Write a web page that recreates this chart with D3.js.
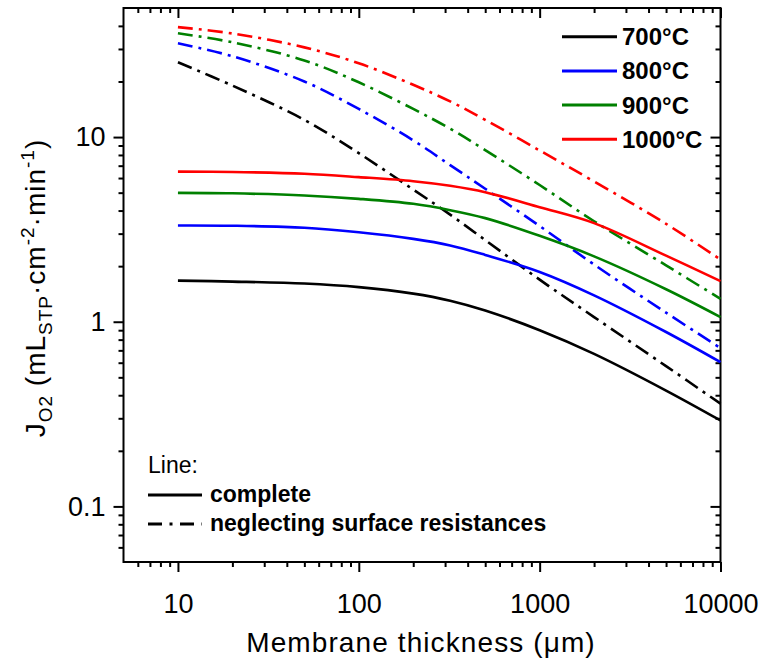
<!DOCTYPE html>
<html>
<head>
<meta charset="utf-8">
<script src="https://cdn.jsdelivr.net/npm/d3@7"></script>
<style>
  body { margin: 0; background: #fff; }
  svg { display: block; font-family: "Liberation Sans", Arial, sans-serif; }
</style>
</head>
<body>
<svg id="chart" width="763" height="664"></svg>
<script>
// Membrane thickness (µm) at which the oxygen flux was evaluated
const thickness = [10, 20, 50, 100, 200, 320, 500, 1000, 2000, 5000, 10000];

const temperatures = ["700°C", "800°C", "900°C", "1000°C"];
const colors = ["#000000", "#0000ff", "#008000", "#ff0000"];

// Full model (bulk diffusion + surface exchange)
const completeFlux700 = [1.67, 1.65, 1.61, 1.54, 1.42, 1.30, 1.15, 0.90, 0.67, 0.424, 0.292];
const completeFlux800 = [3.32, 3.31, 3.23, 3.05, 2.81, 2.59, 2.30, 1.86, 1.39, 0.88, 0.604];
const completeFlux900 = [4.99, 4.96, 4.83, 4.63, 4.35, 4.02, 3.64, 2.92, 2.26, 1.50, 1.06];
const completeFlux1000 = [6.50, 6.47, 6.33, 6.07, 5.77, 5.45, 5.03, 4.17, 3.42, 2.28, 1.66];

// Bulk-only model (surface resistances neglected)
const bulkFlux700 = [25.4, 19.0, 12.4, 8.18, 5.2, 3.8, 2.77, 1.69, 1.06, 0.575, 0.36];
const bulkFlux800 = [32.2, 27.4, 20.0, 14.2, 9.6, 7.05, 5.25, 3.30, 2.04, 1.12, 0.72];
const bulkFlux900 = [36.5, 32.6, 26.0, 19.8, 14.2, 11.1, 8.5, 5.5, 3.5, 2.02, 1.33];
const bulkFlux1000 = [39.4, 36.4, 30.6, 25.1, 19.2, 15.6, 12.4, 8.46, 5.75, 3.39, 2.17];

const xMajorTicks = [10, 100, 1000, 10000];
const xTickLabels = ["10", "100", "1000", "10000"];
const yMajorTicks = [0.1, 1, 10];
const yTickLabels = ["0.1", "1", "10"];

const completeSeries = [completeFlux700, completeFlux800, completeFlux900, completeFlux1000];
const bulkSeries = [bulkFlux700, bulkFlux800, bulkFlux900, bulkFlux1000];

const svg = d3.select("#chart");
const plot = { left: 123.5, right: 720.5, top: 8, bottom: 562 };

const x = d3.scaleLog().domain([5, 10000]).range([plot.left, plot.right]);
const y = d3.scaleLog().domain([0.05, 50]).range([plot.bottom, plot.top]);

// minor ticks: 2..9 within each decade
function minorTicks(lo, hi) {
  const out = [];
  for (let p = -3; p <= 5; p++) {
    for (let k = 2; k <= 9; k++) {
      const v = k * Math.pow(10, p);
      if (v > lo * 1.0001 && v < hi * 0.9999) out.push(+v.toPrecision(6));
    }
  }
  return out;
}
const xMinor = minorTicks(5, 10000);
const yMinor = minorTicks(0.05, 50);

const tickStyle = g => {
  g.select(".domain").remove();
  g.selectAll(".tick line").attr("stroke", "#000").attr("stroke-width", 2);
  g.selectAll(".tick text").attr("fill", "#000");
};

// bottom axis (outward ticks)
const xLabelMap = new Map(xMajorTicks.map((v, i) => [v, xTickLabels[i]]));
svg.append("g").attr("transform", `translate(0,${plot.bottom})`)
  .call(d3.axisBottom(x).tickValues(xMinor).tickSize(5).tickFormat(""))
  .call(tickStyle);
svg.append("g").attr("transform", `translate(0,${plot.bottom})`)
  .call(d3.axisBottom(x).tickValues(xMajorTicks).tickSize(10).tickPadding(22)
        .tickFormat(d => xLabelMap.get(d)))
  .call(tickStyle)
  .call(g => g.selectAll(".tick text").attr("font-size", 27).attr("font-family", "Liberation Sans, Arial, sans-serif"));

// top axis (inward ticks)
svg.append("g").attr("transform", `translate(0,${plot.top})`)
  .call(d3.axisTop(x).tickValues(xMinor).tickSize(-5).tickFormat(""))
  .call(tickStyle);
svg.append("g").attr("transform", `translate(0,${plot.top})`)
  .call(d3.axisTop(x).tickValues(xMajorTicks).tickSize(-10).tickFormat(""))
  .call(tickStyle);

// left axis (outward ticks)
const yLabelMap = new Map(yMajorTicks.map((v, i) => [v, yTickLabels[i]]));
svg.append("g").attr("transform", `translate(${plot.left},0)`)
  .call(d3.axisLeft(y).tickValues(yMinor).tickSize(5).tickFormat(""))
  .call(tickStyle);
svg.append("g").attr("transform", `translate(${plot.left},0)`)
  .call(d3.axisLeft(y).tickValues(yMajorTicks).tickSize(10).tickPadding(8)
        .tickFormat(d => yLabelMap.get(d)))
  .call(tickStyle)
  .call(g => g.selectAll(".tick text").attr("font-size", 27).attr("font-family", "Liberation Sans, Arial, sans-serif"));

// right axis (inward ticks)
svg.append("g").attr("transform", `translate(${plot.right},0)`)
  .call(d3.axisRight(y).tickValues(yMinor).tickSize(-5).tickFormat(""))
  .call(tickStyle);
svg.append("g").attr("transform", `translate(${plot.right},0)`)
  .call(d3.axisRight(y).tickValues(yMajorTicks).tickSize(-10).tickFormat(""))
  .call(tickStyle);

// plot frame
svg.append("rect")
  .attr("x", plot.left).attr("y", plot.top)
  .attr("width", plot.right - plot.left).attr("height", plot.bottom - plot.top)
  .attr("fill", "none").attr("stroke", "#000").attr("stroke-width", 2);

const line = d3.line()
  .x(d => x(d[0]))
  .y(d => y(d[1]))
  .curve(d3.curveCatmullRom.alpha(0.5));

const curves = svg.append("g");
const dashDot = "15,6,3,6";

bulkSeries.forEach((vals, i) => {
  curves.append("path")
    .datum(thickness.map((t, j) => [t, vals[j]]))
    .attr("d", line)
    .attr("fill", "none")
    .attr("stroke", colors[i])
    .attr("stroke-width", 2.6)
    .attr("stroke-dasharray", dashDot);
});
completeSeries.forEach((vals, i) => {
  curves.append("path")
    .datum(thickness.map((t, j) => [t, vals[j]]))
    .attr("d", line)
    .attr("fill", "none")
    .attr("stroke", colors[i])
    .attr("stroke-width", 2.6);
});

// temperature legend
const legT = svg.append("g");
temperatures.forEach((name, i) => {
  const cy = 36.7 + i * 34.2;
  legT.append("line")
    .attr("x1", 562).attr("x2", 617).attr("y1", cy).attr("y2", cy)
    .attr("stroke", colors[i]).attr("stroke-width", 3);
  legT.append("text")
    .attr("x", 622).attr("y", cy + 8.5)
    .attr("font-size", 24).attr("font-weight", "bold")
    .text(name);
});

// line-style legend
const legL = svg.append("g");
legL.append("text").attr("x", 148).attr("y", 473).attr("font-size", 23).text("Line:");
legL.append("line").attr("x1", 148).attr("x2", 202).attr("y1", 495).attr("y2", 495)
  .attr("stroke", "#000").attr("stroke-width", 3);
legL.append("text").attr("x", 210).attr("y", 502).attr("font-size", 23)
  .attr("font-weight", "bold").text("complete");
legL.append("line").attr("x1", 148).attr("x2", 202).attr("y1", 524).attr("y2", 524)
  .attr("stroke", "#000").attr("stroke-width", 3).attr("stroke-dasharray", "14,7.5,3,7.5");
legL.append("text").attr("x", 210).attr("y", 531).attr("font-size", 23)
  .attr("font-weight", "bold").text("neglecting surface resistances");

// axis titles
svg.append("text")
  .attr("x", 421).attr("y", 652)
  .attr("text-anchor", "middle")
  .attr("font-size", 28)
  .attr("letter-spacing", 1.1)
  .text("Membrane thickness (μm)");

const yTitle = svg.append("text")
  .attr("transform", "translate(45,288) rotate(-90)")
  .attr("text-anchor", "middle")
  .attr("font-size", 28)
  .attr("letter-spacing", 1);
yTitle.append("tspan").text("J");
yTitle.append("tspan").attr("dy", 7).attr("font-size", 19).text("O2");
yTitle.append("tspan").attr("dy", -7).text(" (mL");
yTitle.append("tspan").attr("dy", 7).attr("font-size", 19).text("STP");
yTitle.append("tspan").attr("dy", -7).text("·cm");
yTitle.append("tspan").attr("dy", -11).attr("font-size", 19).text("-2");
yTitle.append("tspan").attr("dy", 11).text("·min");
yTitle.append("tspan").attr("dy", -11).attr("font-size", 19).text("-1");
yTitle.append("tspan").attr("dy", 11).text(")");
</script>
</body>
</html>
